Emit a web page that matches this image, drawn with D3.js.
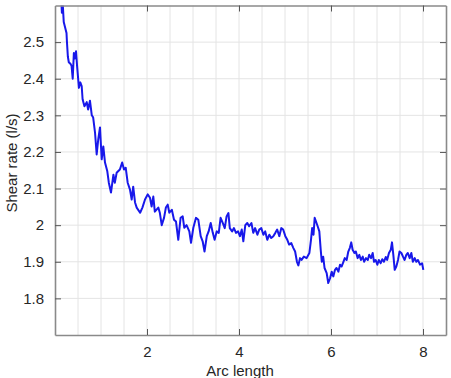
<!DOCTYPE html>
<html>
<head>
<meta charset="utf-8">
<script src="https://cdn.jsdelivr.net/npm/d3@7"></script>
<style>
  html, body { margin: 0; padding: 0; background: #fff; }
  svg { display: block; }
  text { font-family: Arial, "Liberation Sans", sans-serif; fill: #262626; }
</style>
</head>
<body>
<svg id="chart" width="451" height="378"></svg>
<script>
const arcLength = [0.12,0.15,0.17,0.19,0.22,0.25,0.26,0.28,0.30,0.34,0.36,0.385,0.41,0.43,0.457,0.48,0.52,0.55,0.58,0.60,0.64,0.69,0.72,0.76,0.80,0.83,0.87,0.906,0.94,0.978,1.015,1.05,1.087,1.137,1.17,1.217,1.27,1.30,1.34,1.41,1.46,1.50,1.537,1.58,1.63,1.667,1.70,1.74,1.776,1.85,1.90,1.957,2.015,2.065,2.10,2.137,2.17,2.246,2.28,2.32,2.37,2.41,2.45,2.485,2.54,2.587,2.63,2.68,2.73,2.776,2.81,2.86,2.92,2.957,3.007,3.065,3.115,3.167,3.21,3.25,3.30,3.34,3.385,3.43,3.47,3.515,3.56,3.60,3.646,3.69,3.73,3.77,3.80,3.85,3.89,3.935,3.98,4.02,4.06,4.094,4.137,4.18,4.22,4.27,4.31,4.35,4.40,4.44,4.485,4.53,4.57,4.615,4.66,4.70,4.746,4.79,4.83,4.876,4.92,4.96,5.007,5.05,5.09,5.137,5.18,5.22,5.26,5.29,5.326,5.36,5.41,5.47,5.53,5.565,5.59,5.62,5.645,5.674,5.71,5.746,5.776,5.80,5.83,5.86,5.906,5.94,5.98,6.015,6.05,6.087,6.12,6.16,6.196,6.23,6.27,6.30,6.34,6.376,6.41,6.44,6.47,6.51,6.54,6.58,6.615,6.65,6.69,6.72,6.76,6.80,6.83,6.87,6.906,6.935,6.97,7.007,7.04,7.08,7.115,7.15,7.19,7.22,7.26,7.30,7.326,7.355,7.385,7.42,7.457,7.49,7.53,7.565,7.60,7.637,7.67,7.71,7.746,7.78,7.82,7.855,7.89,7.935,7.98,8.007];
const shearRate = [2.66,2.58,2.60,2.555,2.54,2.525,2.50,2.46,2.445,2.44,2.435,2.40,2.47,2.455,2.475,2.435,2.375,2.39,2.38,2.344,2.325,2.336,2.316,2.34,2.30,2.294,2.253,2.193,2.234,2.267,2.18,2.215,2.171,2.147,2.116,2.089,2.138,2.116,2.143,2.152,2.171,2.152,2.157,2.116,2.097,2.07,2.105,2.062,2.048,2.034,2.048,2.07,2.084,2.075,2.051,2.078,2.037,2.048,2.033,2.0,2.02,2.048,2.056,2.034,2.042,2.015,2.01,1.96,2.02,2.024,1.993,2.0,1.983,1.952,1.993,2.02,2.015,1.97,1.956,1.928,1.97,1.983,2.006,1.979,1.96,1.983,1.979,2.02,2.006,1.992,2.024,2.033,1.992,1.983,1.992,1.979,1.983,1.97,1.988,1.956,2.0,2.006,1.997,2.006,1.979,1.992,1.974,1.988,1.992,1.974,1.983,1.96,1.974,1.965,1.97,1.979,1.988,1.97,1.992,1.988,1.97,1.96,1.947,1.951,1.938,1.928,1.90,1.89,1.91,1.905,1.914,1.91,1.924,1.96,1.992,1.974,2.02,2.01,1.997,1.983,1.933,1.90,1.914,1.883,1.869,1.842,1.855,1.873,1.86,1.878,1.883,1.873,1.892,1.887,1.90,1.91,1.905,1.928,1.938,1.953,1.933,1.924,1.928,1.91,1.919,1.905,1.914,1.90,1.91,1.905,1.919,1.91,1.924,1.90,1.905,1.892,1.905,1.896,1.907,1.90,1.913,1.905,1.924,1.933,1.953,1.919,1.878,1.887,1.905,1.928,1.924,1.914,1.905,1.919,1.924,1.91,1.924,1.90,1.91,1.90,1.905,1.892,1.896,1.878];
const xTicks = [2, 4, 6, 8];
const yTicks = [1.8, 1.9, 2.0, 2.1, 2.2, 2.3, 2.4, 2.5];
const yTickLabels = ["1.8", "1.9", "2", "2.1", "2.2", "2.3", "2.4", "2.5"];
const xGrid = [0.5,1,1.5,2,2.5,3,3.5,4,4.5,5,5.5,6,6.5,7,7.5,8];
const xLabel = "Arc length";
const yLabel = "Shear rate (l/s)";

const mL = 55, mR = 446, mT = 5.5, mB = 335;
const svg = d3.select("#chart");
const x = d3.scaleLinear().domain([0, 8.5]).range([mL, mR]);
const y = d3.scaleLinear().domain([1.7, 2.6]).range([mB, mT]);

// grid
svg.append("g").selectAll("line").data(xGrid).join("line")
  .attr("x1", d => x(d)).attr("x2", d => x(d))
  .attr("y1", mT).attr("y2", mB)
  .attr("stroke", "#e4e4e4").attr("stroke-width", 1);
svg.append("g").selectAll("line").data(yTicks).join("line")
  .attr("x1", mL).attr("x2", mR)
  .attr("y1", d => y(d)).attr("y2", d => y(d))
  .attr("stroke", "#e4e4e4").attr("stroke-width", 1);

// line
svg.append("clipPath").attr("id", "clip").append("rect")
  .attr("x", mL).attr("y", mT).attr("width", mR - mL).attr("height", mB - mT);
const pts = arcLength.map((d, i) => [d, shearRate[i]]);
svg.append("path").datum(pts)
  .attr("clip-path", "url(#clip)")
  .attr("fill", "none").attr("stroke", "#1818ea").attr("stroke-width", 2)
  .attr("stroke-linejoin", "round")
  .attr("d", d3.line().x(d => x(d[0])).y(d => y(d[1])));

// axes (inward ticks)
const axB = d3.axisBottom(x).tickValues(xTicks).tickFormat(d3.format("d")).tickSizeInner(-6).tickSizeOuter(0).tickPadding(11);
const axL = d3.axisLeft(y).tickValues(yTicks).tickFormat((d, i) => yTickLabels[i]).tickSizeInner(-6).tickSizeOuter(0).tickPadding(11);
const axT = d3.axisTop(x).tickValues(xTicks).tickFormat("").tickSizeInner(-6).tickSizeOuter(0);
const axR = d3.axisRight(y).tickValues(yTicks).tickFormat("").tickSizeInner(-6).tickSizeOuter(0);

function style(g) {
  g.select(".domain").attr("stroke", "#8a8a8a").attr("stroke-width", 1.6);
  g.selectAll(".tick line").attr("stroke", "#555").attr("stroke-width", 1);
  g.selectAll(".tick text").attr("font-size", 15).attr("fill", "#262626")
    .attr("font-family", 'Arial, "Liberation Sans", sans-serif');
}
svg.append("g").attr("transform", `translate(0,${mB})`).call(axB).call(style);
svg.append("g").attr("transform", `translate(${mL},0)`).call(axL).call(style);
svg.append("g").attr("transform", `translate(0,${mT})`).call(axT).call(style);
svg.append("g").attr("transform", `translate(${mR},0)`).call(axR).call(style);

svg.append("text").attr("x", 240).attr("y", 376).attr("text-anchor", "middle")
  .attr("font-size", 15).text(xLabel);
svg.append("text").attr("transform", "translate(16.5,163) rotate(-90)")
  .attr("text-anchor", "middle").attr("font-size", 15).text(yLabel);
</script>
</body>
</html>
